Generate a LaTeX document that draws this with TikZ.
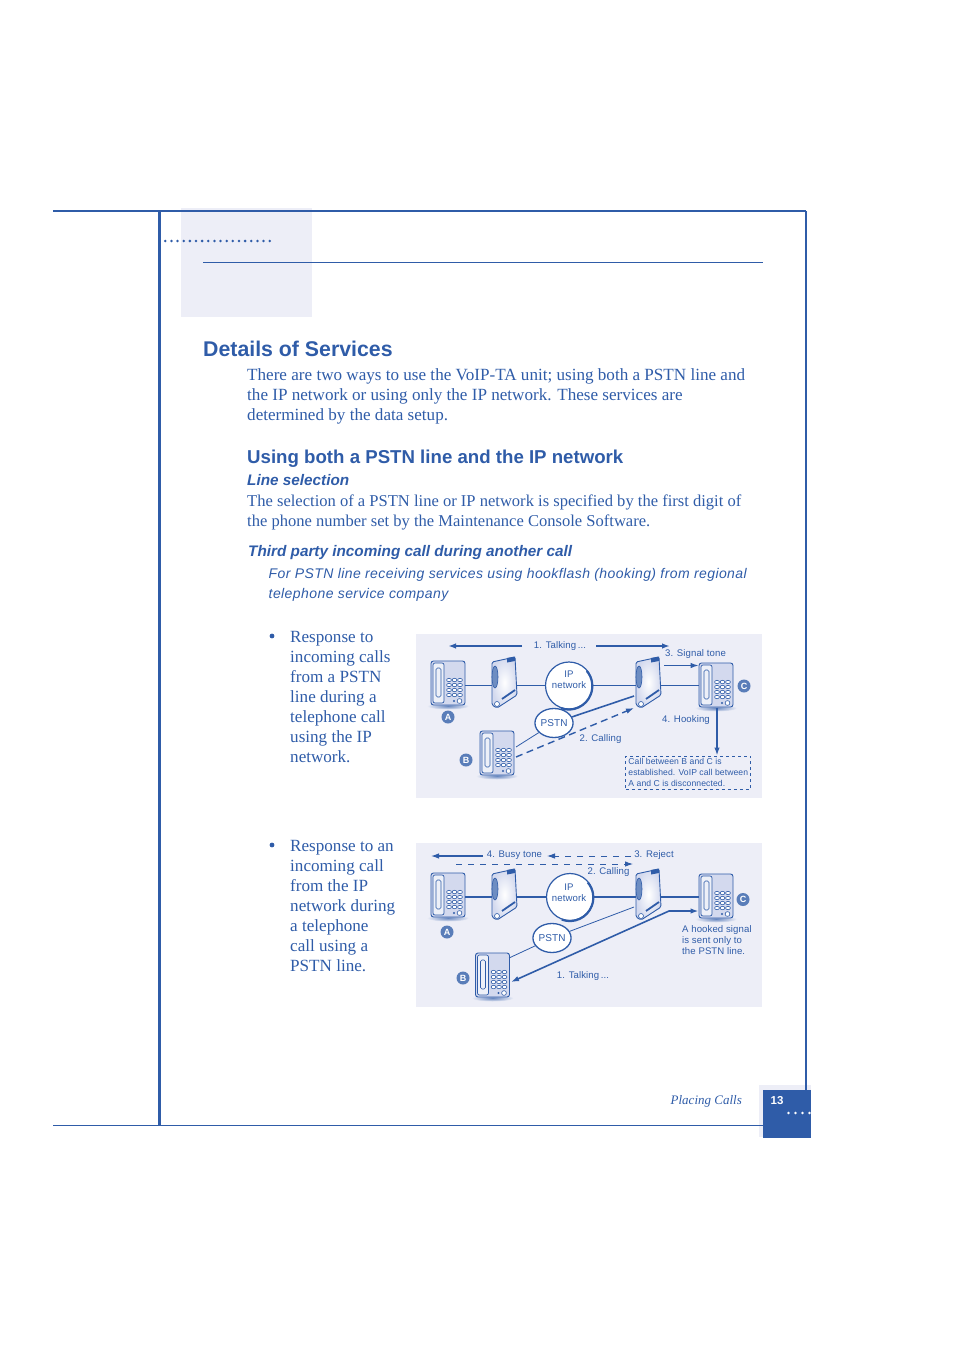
\documentclass[tikz,border=0pt]{standalone}
\usepackage{fontspec}
\setmainfont{Liberation Serif}
\setsansfont{Liberation Sans}
\newfontfamily\diagfont[LetterSpace=1]{Liberation Sans}
\newfontfamily\leadfont[LetterSpace=3]{Liberation Sans}
\usetikzlibrary{arrows.meta,shapes.geometric,calc}
\definecolor{inkblue}{HTML}{2F5CA8}
\definecolor{panel}{HTML}{EDEEF7}
\definecolor{telfill}{HTML}{D3D9EE}
\tikzset{
  x=1pt,y=-1pt,
  every node/.style={inner sep=0pt,text=inkblue},
  para/.style={anchor=north west,align=left,font=\fontsize{17.1}{20}\selectfont},
  head/.style={anchor=base west,font=\fontsize{18.65}{24}\selectfont\sffamily\bfseries},
  subhead/.style={anchor=base west,font=\fontsize{15.3}{20}\selectfont\sffamily\bfseries\itshape},
  lead/.style={anchor=north west,align=left,font=\fontsize{14}{20}\selectfont\leadfont\itshape},
  caption/.style={font=\fontsize{9.6}{11}\selectfont\diagfont,align=left},
  telbody/.style={draw=inkblue,line width=0.9pt,rounded corners=2.5pt,fill=telfill,minimum width=34pt,minimum height=44pt},
  modembody/.style={minimum width=24pt,minimum height=50pt},
  cloud/.style={draw=inkblue,line width=1.2pt,fill=white,circle,minimum size=47pt},
  pstn/.style={draw=inkblue,line width=1.3pt,fill=white,ellipse,minimum width=38pt,minimum height=29pt,font=\fontsize{10}{11.5}\selectfont\diagfont},
  tag/.style={circle,fill=inkblue!80!white,minimum size=13pt,text=white,font=\fontsize{9}{9}\selectfont\sffamily\bfseries},
  link/.style={draw=inkblue,line width=1.1pt},
  thinlink/.style={draw=inkblue,line width=0.8pt},
  thicklink/.style={draw=inkblue,line width=1.6pt},
  tipped/.style={-{Latex[length=8pt,width=5.5pt]}},
  dashlink/.style={draw=inkblue,line width=1.4pt,dash pattern=on 7pt off 4.5pt},
  sparselink/.style={draw=inkblue,line width=0.9pt,dash pattern=on 6pt off 6pt},
}
% phone: name, position
\newcommand{\telset}[2]{
  \shade[inner color=inkblue!70!panel,outer color=panel] ($(#2)+(0,23)$) ellipse (21pt and 3.5pt);
  \node [telbody] (#1) at (#2) {};
  \begin{scope}[shift={(#2)}]
    \draw [inkblue,line width=0.7pt,rounded corners=2pt,fill=white!60!telfill] (-15,-20) rectangle (-4,20);
    \draw [inkblue,line width=0.6pt,rounded corners=1.5pt] (-12,-15) rectangle (-7,14);
    \foreach \ky in {-3,2,7,12} \foreach \kx in {1,6.5,12}
      \draw [inkblue,line width=0.6pt,fill=white] (\kx,\ky) ellipse (2.4pt and 1.7pt);
    \draw [inkblue,line width=0.6pt,fill=white] (11.5,18) circle (2.4pt);
    \fill [inkblue] (6,18) circle (1.1pt);
  \end{scope}
}
% modem: name, position
\newcommand{\modemset}[2]{
  \node [modembody] (#1) at (#2) {};
  \begin{scope}[shift={(#2)}]
    \shade [draw=inkblue,line width=0.9pt,inner color=white,outer color=telfill,rounded corners=1.5pt]
      (-12,-20) -- (11,-25) -- (13,13) -- (-7,26) -- (-12,23) -- cycle;
    \fill [inkblue] (3,-24) -- (11,-25.5) -- (11,-21) -- (3,-19.5) -- cycle;
    \draw [inkblue,line width=0.6pt,fill=inkblue!70!white] (-9,-5) ellipse (3pt and 11pt);
    \draw [inkblue,line width=1.8pt] (-2,17) -- (11,8);
    \draw [inkblue,line width=0.6pt,fill=white] (-7,22) circle (2.5pt);
  \end{scope}
}
\begin{document}
\begin{tikzpicture}
  \useasboundingbox (0,0) rectangle (954,1351);
  % page frame
  \fill [panel] (181,208) rectangle (312,317);
  \fill [panel] (759,1085) rectangle (811,1137);
  \draw [inkblue,line width=2pt] (53,211) -- (806,211);
  \draw [inkblue,line width=3pt] (159,211) -- (159,1125);
  \draw [inkblue,line width=2pt] (806,211) -- (806,1090);
  \draw [inkblue,line width=0.8pt] (53,1125.5) -- (763,1125.5);
  \draw [inkblue,line width=0.8pt] (203,262.5) -- (763,262.5);
  \foreach \i in {0,...,17}
    \fill [inkblue] (165.3+\i*6.14,241) circle (1.4pt);
  \fill [inkblue] (763,1090) rectangle (811,1138);
  \foreach \i in {0,...,3}
    \fill [white] (788.5+\i*7,1113) circle (1.3pt);
  \node [anchor=base west,text=white,font=\fontsize{11.5}{12}\selectfont\sffamily\bfseries] (pagenum) at (770.5,1104) {13};
  \node [anchor=base east,font=\fontsize{13}{15}\selectfont\itshape] (chapter) at (742,1104) {Placing Calls};

  % text
  \node [head,font=\fontsize{21.3}{24}\selectfont\sffamily\bfseries] (title) at (203,356) {Details of Services};
  \node [para] (intro) at (247,368.5) {There are two ways to use the VoIP-TA unit; using both a PSTN line and\\the IP network or using only the IP network. These services are\\determined by the data setup.};
  \node [head] (using) at (247,463) {Using both a PSTN line and the IP network};
  \node [subhead] (linesel) at (247,485) {Line selection};
  \node [para,font=\fontsize{16.55}{20}\selectfont] (selbody) at (247,494.5) {The selection of a PSTN line or IP network is specified by the first digit of\\the phone number set by the Maintenance Console Software.};
  \node [subhead] (third) at (248,556) {Third party incoming call during another call};
  \node [lead] (forpstn) at (268.5,568) {For PSTN line receiving services using hookflash (hooking) from regional\\telephone service company};
  \fill [inkblue] (272,636) circle (2.4pt);
  \node [para] (firstcase) at (290,631) {Response to\\incoming calls\\from a PSTN\\line during a\\telephone call\\using the IP\\network.};
  \fill [inkblue] (272,845) circle (2.4pt);
  \node [para] (secondcase) at (290,840) {Response to an\\incoming call\\from the IP\\network during\\a telephone\\call using a\\PSTN line.};

  % first panel
  \fill [panel] (416,634) rectangle (762,798);
  \telset{telAa}{448,683}
  \modemset{modemAa}{504,682}
  \modemset{modemCa}{648,682}
  \telset{telCa}{716,685}
  \telset{telBa}{497,753}
  \node [cloud] (ipa) at (569,685.5) {};
  \draw [inkblue,line width=2.2pt] (ipa.-110) arc (-110:40:23.5pt);
  \node [caption,align=center] (iptexta) at (569,680) {IP\\network};
  \node [pstn] (pstna) at (554,723) {PSTN};
  \coordinate (portCa) at (634,696);
  \coordinate (portBa) at (516,747);
  \coordinate (dashBa) at (516,757);
  \coordinate (dashCa) at (634,708);
  \draw [link] (telAa.east |- ipa) -- (modemAa.west |- ipa);
  \draw [link] (modemAa.east |- ipa) -- (ipa);
  \draw [link] (ipa) -- (modemCa.west |- ipa);
  \draw [link] (modemCa.east |- ipa) -- (telCa.west |- ipa);
  \draw [thicklink] (pstna) -- (portCa);
  \draw [thinlink] (portBa) -- (pstna);
  \draw [dashlink,tipped] (dashBa) -- (dashCa);
  \node [tag] (tagAa) at (448,717) {A};
  \node [tag] (tagBa) at (466,760) {B};
  \node [tag] (tagCa) at (744,686) {C};
  \node [caption] (talka) at (560,646.5) {1. Talking\,...};
  \coordinate (talkLa) at (448,646);
  \coordinate (talkMa) at (522,646);
  \coordinate (talkNa) at (596,646);
  \coordinate (talkRa) at (670,646);
  \draw [thicklink,tipped] (talkMa) -- (talkLa);
  \draw [thicklink,tipped] (talkNa) -- (talkRa);
  \node [caption] (signala) at (695.5,654) {3. Signal tone};
  \coordinate (signalSa) at (664,665.5);
  \draw [link,tipped] (signalSa) -- (telCa.west |- signalSa);
  \node [caption] (hooka) at (686,720) {4. Hooking};
  \node [caption] (calla) at (600.5,739.5) {2. Calling};
  \node [draw=inkblue,dashed,line width=0.9pt,minimum width=125pt,minimum height=33pt,caption,font=\fontsize{8.6}{10.6}\selectfont\diagfont,xshift=0.8pt] (noticea) at (687.5,772.5) {Call between B and C is\\established. VoIP call between\\A and C is disconnected.};
  \coordinate (hookSa) at (717,707.5);
  \draw [thicklink,tipped] (hookSa) -- (hookSa |- noticea.north);

  % second panel
  \fill [panel] (416,843) rectangle (762,1007);
  \telset{telAb}{448,895}
  \modemset{modemAb}{504,894}
  \modemset{modemCb}{648,894}
  \telset{telCb}{716,896}
  \telset{telBb}{492.5,975}
  \node [cloud] (ipb) at (570,897) {};
  \draw [inkblue,line width=2.2pt] (ipb.-110) arc (-110:40:23.5pt);
  \node [caption,align=center] (iptextb) at (569,892.5) {IP\\network};
  \node [pstn] (pstnb) at (552,938) {PSTN};
  \coordinate (portCb) at (634,907);
  \coordinate (portBb) at (509,958);
  \coordinate (bendb) at (669,911);
  \coordinate (talkBb) at (511,982);
  \draw [link] (telAb.east |- ipb) -- (modemAb.west |- ipb);
  \draw [link] (modemAb.east |- ipb) -- (ipb);
  \draw [link] (ipb) -- (modemCb.west |- ipb);
  \draw [link] (modemCb.east |- ipb) -- (telCb.west |- ipb);
  \draw [thinlink] (pstnb) -- (portCb);
  \draw [thinlink] (portBb) -- (pstnb);
  \draw [thicklink,{Latex[length=8pt,width=5.5pt]}-{Latex[length=8pt,width=5.5pt]}] (talkBb) -- (bendb) -- (telCb.west |- bendb);
  \node [tag] (tagAb) at (447,932) {A};
  \node [tag] (tagBb) at (463,978) {B};
  \node [tag] (tagCb) at (743,899.5) {C};
  \node [caption] (busyb) at (514.5,855) {4. Busy tone};
  \node [caption] (rejectb) at (654,855) {3. Reject};
  \node [caption] (callb) at (608.5,872.5) {2. Calling};
  \node [caption] (talkb) at (583,976.5) {1. Talking\,...};
  \coordinate (busySb) at (483,856);
  \coordinate (busyEb) at (431,856);
  \coordinate (rejectSb) at (631,856);
  \coordinate (rejectEb) at (547,856);
  \coordinate (callSb) at (456,864);
  \coordinate (callEb) at (633,864);
  \draw [link,tipped] (busySb) -- (busyEb);
  \draw [sparselink,tipped] (rejectSb) -- (rejectEb);
  \draw [sparselink,tipped] (callSb) -- (callEb);
  \node [caption,anchor=north west] (hookb) at (682,925) {A hooked signal\\is sent only to\\the PSTN line.};
\end{tikzpicture}
\end{document}
